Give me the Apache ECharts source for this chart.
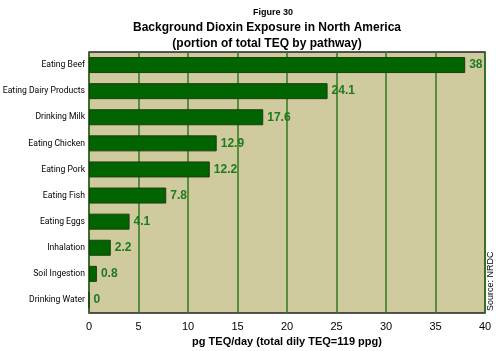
<!DOCTYPE html>
<html>
<head>
<meta charset="utf-8">
<script src="https://cdn.jsdelivr.net/npm/echarts@6/dist/echarts.min.js"></script>
<style>
html, body { margin: 0; padding: 0; background: #fff; }
#chart { width: 496px; height: 351px; }
</style>
</head>
<body>
<div id="chart"></div>
<script>
var categories = ["Eating Beef", "Eating Dairy Products", "Drinking Milk", "Eating Chicken", "Eating Pork", "Eating Fish", "Eating Eggs", "Inhalation", "Soil Ingestion", "Drinking Water"]
var values = [38, 24.1, 17.6, 12.9, 12.2, 7.8, 4.1, 2.2, 0.8, 0]
var xTicks = [0, 5, 10, 15, 20, 25, 30, 35, 40]

var chart_dom = document.getElementById("chart")
var myChart = echarts.init(chart_dom)
var option

option = {
    backgroundColor: "#ffffff",
    title: [
        {
            text: "Figure 30",
            left: 268,
            top: 3,
            textAlign: "center",
            textStyle: { fontFamily: "Liberation Sans", fontSize: 9, fontWeight: "bold", color: "#000" }
        },
        {
            text: "Background Dioxin Exposure in North America\n(portion of total TEQ by pathway)",
            left: 262,
            top: 15,
            textAlign: "center",
            textStyle: { fontFamily: "Liberation Sans", fontSize: 12, fontWeight: "bold", color: "#000", lineHeight: 16 }
        }
    ],
    graphic: [
        {
            type: "text",
            x: 486,
            y: 311,
            rotation: Math.PI / 2,
            style: {
                text: "Source: NRDC",
                fontFamily: "Liberation Sans",
                fontSize: 9,
                fill: "#000",
                align: "left",
                verticalAlign: "top"
            }
        }
    ],
    grid: {
        left: 89,
        right: 11,
        top: 52,
        bottom: 38,
        outerBoundsMode: "none",
        containLabel: false,
        show: true,
        backgroundColor: "#cfcb9f",
        borderColor: "#222",
        borderWidth: 1.5
    },
    xAxis: {
        type: "value",
        min: 0,
        max: 40,
        interval: 5,
        name: "pg TEQ/day (total dily TEQ=119 ppg)",
        nameLocation: "middle",
        nameGap: 22,
        nameTextStyle: { fontFamily: "Liberation Sans", fontSize: 11, fontWeight: "bold", color: "#000" },
        axisLine: { show: false },
        axisTick: { show: false },
        axisLabel: {
            fontFamily: "Liberation Sans",
            fontSize: 11,
            color: "#000",
            margin: 8,
            formatter: function (v) { return xTicks.indexOf(v) >= 0 ? String(v) : "" }
        },
        splitLine: { show: true, lineStyle: { color: "#2f7a1e", width: 1.5 } }
    },
    yAxis: {
        type: "category",
        inverse: true,
        data: categories,
        axisLine: { show: false },
        axisTick: { show: false },
        axisLabel: { fontFamily: "Roboto", fontSize: 8.6, color: "#000", margin: 4 }
    },
    series: [
        {
            type: "bar",
            data: values,
            barWidth: 16,
            itemStyle: { color: "#006400", borderColor: "#1e3d12", borderWidth: 1 },
            label: {
                show: true,
                position: "right",
                distance: 4,
                fontFamily: "Liberation Sans",
                fontSize: 12,
                fontWeight: "bold",
                color: "#1e7a1e"
            }
        }
    ]
}

option && myChart.setOption(option)
</script>
</body>
</html>
